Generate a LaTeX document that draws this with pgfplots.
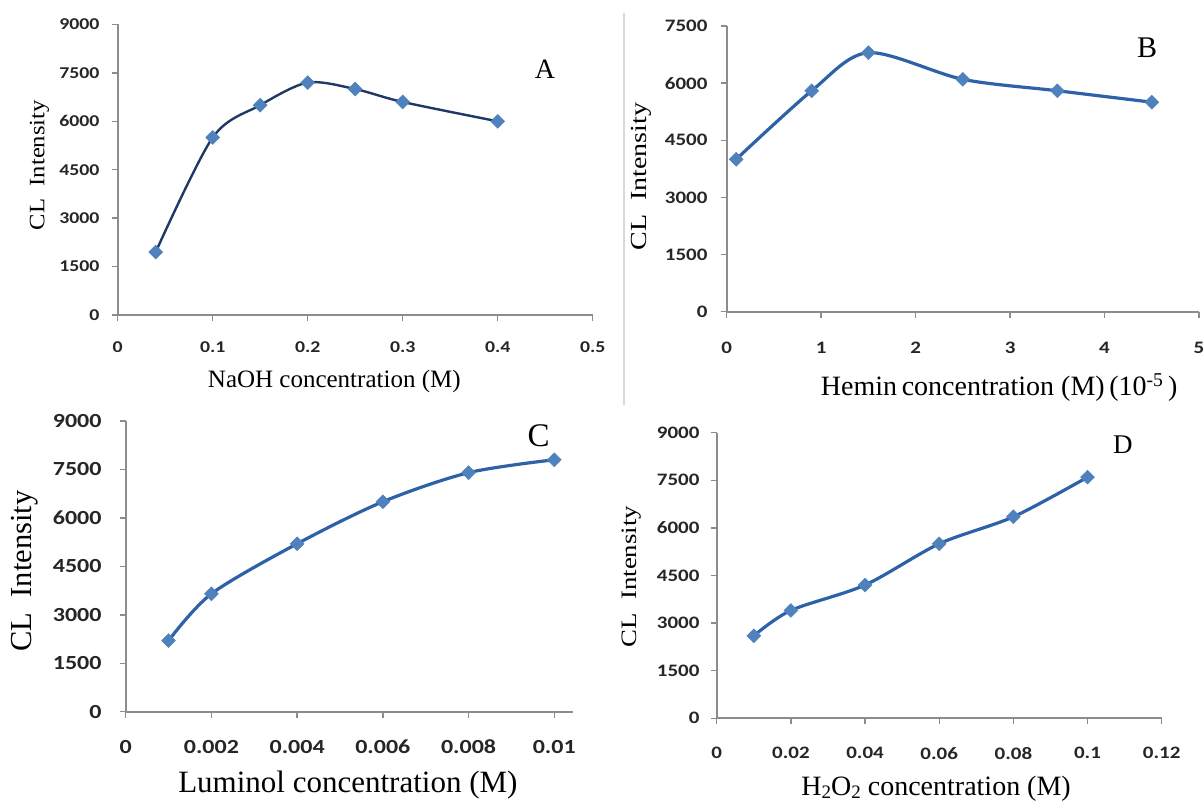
\documentclass[border=0pt]{standalone}
\usepackage{fontspec}
\usepackage{graphicx}
\usepackage{pgfplots}
\pgfplotsset{compat=1.18}
\setmainfont{Liberation Serif}
\newfontfamily\tickfont[FakeStretch=1.2]{Carlito}

\definecolor{axgray}{HTML}{8C8C8C}
\definecolor{mk}{HTML}{4F81BD}
\definecolor{lnA}{HTML}{1F3864}
\definecolor{lnB}{HTML}{2E62A8}

\pgfplotsset{
  panel/.style={
    scale only axis, anchor=south west, clip=false,
    axis lines=left,
    every outer x axis line/.append style={-},
    every outer y axis line/.append style={-},
    axis line style={-, axgray, line width=1.8pt},
    tick style={axgray, line width=1.4pt},
    major tick length=6pt, tick align=outside,
    xtick pos=bottom, ytick pos=left,
    ymin=0, xmin=0,
    scaled ticks=false,
    /pgf/number format/assume math mode=true,
    /pgf/number format/1000 sep={},
    tick label style={text=black!85, inner sep=0pt},
    xticklabel style={anchor=north},
    yticklabel style={anchor=east},
    ylabel style={anchor=center, rotate=0},
    xlabel style={anchor=base},
  },
  dia/.style={mark=square*, mark size=4.9pt, mark options={rotate=45, fill=mk, draw=mk, line width=0.5pt}},
}

\begin{document}
\begin{tikzpicture}[x=1pt,y=1pt]
\useasboundingbox (0,0) rectangle (1204,803);
\draw[line width=1.2pt, black!15] (624,398) -- (624,790);

% A: NaOH
\begin{axis}[panel, at={(117.7pt,488pt)}, width=475pt, height=290.5pt,
  xmax=0.5, ymax=9000,
  xtick={0,0.1,0.2,0.3,0.4,0.5}, xticklabels={0,0.1,0.2,0.3,0.4,0.5},
  ytick={0,1500,3000,4500,6000,7500,9000},
  tick label style={font=\fontsize{16.5}{16.5}\tickfont\bfseries},
  xticklabel style={yshift=-20pt}, yticklabel style={xshift=-12pt},
  xlabel={NaOH concentration (M)},
  xlabel style={at={(rel axis cs:0.456,-0.2513)}, font=\fontsize{25}{25}\selectfont},
  ylabel={\scalebox{1.12}[1]{CL\ \ Intensity}},
  ylabel style={at={(rel axis cs:-0.1646,0.516)}, font=\fontsize{22}{22}\selectfont},
]
\addplot[lnA, line width=2.4pt, smooth, dia] coordinates {
  (0.04,1950)(0.1,5500)(0.15,6500)(0.2,7200)(0.25,7000)(0.3,6600)(0.4,6000)};
\node[font=\fontsize{28}{28}\selectfont] at (rel axis cs:0.8996,0.847) {A};
\end{axis}

% B: Hemin
\begin{axis}[panel, at={(726.7pt,491.3pt)}, width=472.3pt, height=285.7pt,
  xmax=5, ymax=7500,
  xtick={0,1,2,3,4,5}, xticklabels={0,1,2,3,4,5},
  ytick={0,1500,3000,4500,6000,7500},
  tick label style={font=\fontsize{17.5}{17.5}\tickfont\bfseries},
  xticklabel style={yshift=-24pt}, yticklabel style={xshift=-13pt},
  xlabel={Hemin\,concentration (M)\,(10\textsuperscript{-5}\,)},
  xlabel style={at={(rel axis cs:0.577,-0.2933)}, font=\fontsize{28}{28}\selectfont},
  ylabel={\scalebox{1.22}[1]{CL\ \ Intensity}},
  ylabel style={at={(rel axis cs:-0.1804,0.473)}, font=\fontsize{23}{23}\selectfont},
]
\addplot[lnB, line width=3.2pt, smooth, dia] coordinates {
  (0.1,4000)(0.9,5800)(1.5,6800)(2.5,6100)(3.5,5800)(4.5,5500)};
\node[font=\fontsize{30}{30}\selectfont] at (rel axis cs:0.890,0.923) {B};
\end{axis}

% C: Luminol
\begin{axis}[panel, at={(125.7pt,91.3pt)}, width=447pt, height=290.7pt,
  xmax=0.01043, ymax=9000,
  xtick={0,0.002,0.004,0.006,0.008,0.01},
  xticklabels={0,0.002,0.004,0.006,0.008,0.01},
  ytick={0,1500,3000,4500,6000,7500,9000},
  tick label style={font=\fontsize{20}{20}\tickfont\bfseries},
  xticklabel style={yshift=-22pt}, yticklabel style={xshift=-18pt},
  xlabel={Luminol concentration (M)},
  xlabel style={at={(rel axis cs:0.497,-0.2786)}, font=\fontsize{31}{31}\selectfont},
  ylabel={CL\ \ Intensity},
  ylabel style={at={(rel axis cs:-0.2253,0.484)}, font=\fontsize{30.5}{31}\selectfont},
]
\addplot[lnB, line width=3.2pt, smooth, dia] coordinates {
  (0.001,2200)(0.002,3650)(0.004,5200)(0.006,6500)(0.008,7400)(0.01,7800)};
\node[font=\fontsize{33}{33}\selectfont] at (rel axis cs:0.9235,0.948) {C};
\end{axis}

% D: H2O2
\begin{axis}[panel, at={(716.7pt,84.7pt)}, width=445pt, height=285.6pt,
  xmax=0.12, ymax=9000,
  xtick={0,0.02,0.04,0.06,0.08,0.1,0.12},
  xticklabels={0,0.02,0.04,0.06,0.08,0.1,0.12},
  ytick={0,1500,3000,4500,6000,7500,9000},
  tick label style={font=\fontsize{17.5}{17.5}\tickfont\bfseries},
  xticklabel style={yshift=-23pt}, yticklabel style={xshift=-11pt},
  xlabel={H\raisebox{-0.1em}{\fontsize{19}{19}\selectfont 2}O\raisebox{-0.1em}{\fontsize{19}{19}\selectfont 2} concentration (M)},
  xlabel style={at={(rel axis cs:0.493,-0.270)}, font=\fontsize{28}{28}\selectfont},
  ylabel={\scalebox{1.22}[1]{CL\ \ Intensity}},
  ylabel style={at={(rel axis cs:-0.1915,0.496)}, font=\fontsize{22}{22}\selectfont},
]
\addplot[lnB, line width=3.2pt, smooth, dia] coordinates {
  (0.01,2600)(0.02,3400)(0.04,4200)(0.06,5500)(0.08,6350)(0.1,7600)};
\node[font=\fontsize{27}{27}\selectfont] at (rel axis cs:0.913,0.957) {D};
\end{axis}
\end{tikzpicture}
\end{document}
